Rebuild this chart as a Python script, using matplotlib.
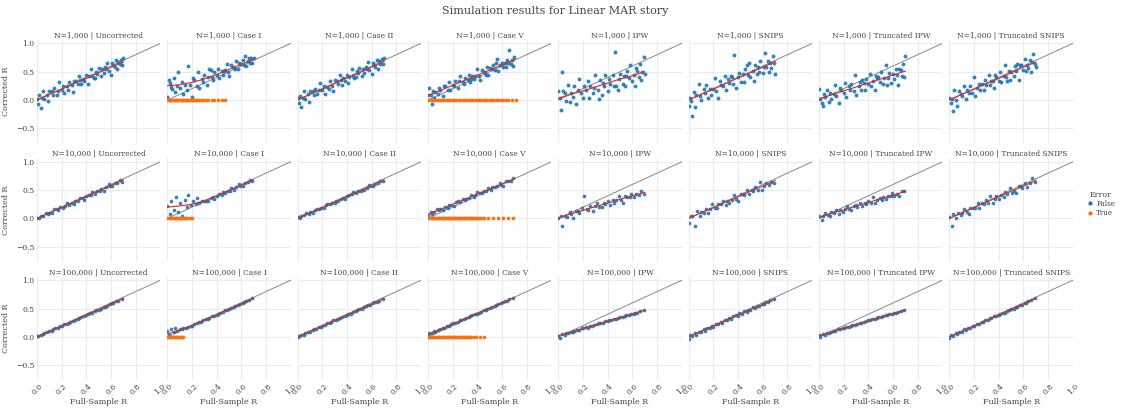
import matplotlib
matplotlib.use('Agg')
import matplotlib.pyplot as plt
from matplotlib.lines import Line2D

plt.rcParams['font.family'] = 'DejaVu Serif'

# column / row labels
methods = ['Uncorrected', 'Case I', 'Case II', 'Case V', 'IPW', 'SNIPS',
           'Truncated IPW', 'Truncated SNIPS']
sizes = ['1,000', '10,000', '100,000']

# ---------------- N = 1,000 ----------------
x_1k = [0.00, 0.01, 0.02, 0.04, 0.05, 0.06, 0.08, 0.09, 0.10, 0.12,
        0.13, 0.14, 0.16, 0.17, 0.18, 0.20, 0.21, 0.22, 0.24, 0.25,
        0.26, 0.28, 0.29, 0.30, 0.32, 0.33, 0.34, 0.36, 0.37, 0.38,
        0.40, 0.41, 0.42, 0.44, 0.45, 0.46, 0.48, 0.49, 0.50, 0.52,
        0.53, 0.54, 0.56, 0.57, 0.58, 0.60, 0.61, 0.62, 0.63, 0.64,
        0.65, 0.66, 0.67, 0.68, 0.69, 0.70, 0.03, 0.35, 0.55, 0.47]

y_1k_unc = [0.02, -0.07, 0.08, 0.03, 0.16, 0.01, 0.09, -0.02, 0.16, 0.15,
            0.08, 0.21, 0.09, 0.16, 0.32, 0.17, 0.24, 0.12, 0.24, 0.18,
            0.32, 0.26, 0.14, 0.34, 0.34, 0.28, 0.43, 0.28, 0.37, 0.33,
            0.44, 0.29, 0.42, 0.55, 0.42, 0.38, 0.50, 0.46, 0.56, 0.42,
            0.54, 0.47, 0.54, 0.66, 0.52, 0.45, 0.65, 0.61, 0.58, 0.70,
            0.54, 0.67, 0.63, 0.71, 0.62, 0.74, -0.14, 0.35, 0.58, 0.39]
y_1k_c1 = [0.06, 0.36, 0.30, 0.19, 0.39, 0.14, 0.25, 0.50, 0.22, 0.32,
           0.10, 0.27, 0.17, 0.60, 0.27, 0.05, 0.38, 0.36, 0.25, 0.50,
           0.22, 0.37, 0.31, 0.45, 0.26, 0.41, 0.54, 0.40, 0.36, 0.49,
           0.45, 0.54, 0.38, 0.52, 0.45, 0.51, 0.64, 0.50, 0.43, 0.62,
           0.59, 0.57, 0.69, 0.54, 0.65, 0.63, 0.71, 0.62, 0.78, 0.60,
           0.69, 0.74, 0.66, 0.74, 0.66, 0.75, 0.23, 0.53, 0.55, 0.53]
y_1k_c2 = [0.03, -0.06, 0.07, 0.04, 0.15, 0.02, 0.10, -0.03, 0.15, 0.16,
           0.09, 0.20, 0.10, 0.17, 0.30, 0.18, 0.25, 0.11, 0.23, 0.19,
           0.33, 0.25, 0.15, 0.35, 0.33, 0.29, 0.44, 0.27, 0.38, 0.34,
           0.45, 0.30, 0.41, 0.54, 0.43, 0.39, 0.51, 0.47, 0.57, 0.43,
           0.55, 0.48, 0.55, 0.67, 0.53, 0.46, 0.66, 0.62, 0.59, 0.71,
           0.55, 0.68, 0.64, 0.72, 0.63, 0.74, -0.13, 0.36, 0.59, 0.40]
y_1k_c5 = [0.08, 0.22, 0.08, 0.16, 0.04, 0.14, 0.10, 0.22, 0.17, 0.07,
           0.24, 0.24, 0.18, 0.31, 0.18, 0.27, 0.25, 0.33, 0.21, 0.33,
           0.42, 0.32, 0.29, 0.39, 0.36, 0.45, 0.32, 0.42, 0.37, 0.42,
           0.54, 0.42, 0.35, 0.53, 0.50, 0.47, 0.59, 0.45, 0.56, 0.54,
           0.61, 0.53, 0.72, 0.51, 0.61, 0.66, 0.58, 0.66, 0.58, 0.71,
           0.66, 0.88, 0.64, 0.70, 0.60, 0.76, -0.08, 0.37, 0.65, 0.45]
y_1k_ipw = [0.16, 0.03, -0.17, 0.15, 0.13, -0.01, 0.26, -0.04, 0.13, 0.06,
            0.24, -0.08, 0.18, 0.37, 0.12, 0.04, 0.25, 0.17, 0.33, 0.04,
            0.25, 0.13, 0.22, 0.44, 0.17, 0.02, 0.36, 0.30, 0.24, 0.45,
            0.16, 0.37, 0.28, 0.44, 0.25, 0.84, 0.17, 0.37, 0.46, 0.28,
            0.43, 0.25, 0.51, 0.38, 0.62, 0.34, 0.45, 0.24, 0.57, 0.51,
            0.40, 0.63, 0.36, 0.49, 0.76, 0.46, 0.50, 0.09, 0.43, 0.24]
y_1k_snips = [-0.11, 0.03, -0.02, 0.14, -0.12, 0.09, 0.28, 0.07, 0.00, 0.19,
              0.12, 0.26, 0.03, 0.20, 0.09, 0.19, 0.38, 0.15, 0.03, 0.33,
              0.27, 0.24, 0.42, 0.17, 0.37, 0.30, 0.43, 0.28, 0.80, 0.22,
              0.40, 0.48, 0.32, 0.46, 0.32, 0.54, 0.45, 0.65, 0.41, 0.51,
              0.33, 0.62, 0.58, 0.49, 0.69, 0.48, 0.59, 0.83, 0.58, 0.69,
              0.49, 0.66, 0.56, 0.77, 0.66, 0.46, -0.28, 0.40, 0.46, 0.61]
y_1k_tipw = [0.20, 0.01, -0.06, 0.11, 0.05, 0.17, -0.04, 0.12, 0.02, 0.10,
             0.27, 0.07, -0.05, 0.22, 0.17, 0.13, 0.30, 0.06, 0.24, 0.18,
             0.29, 0.16, 0.45, 0.09, 0.25, 0.32, 0.18, 0.30, 0.17, 0.37,
             0.28, 0.46, 0.24, 0.34, 0.18, 0.43, 0.40, 0.31, 0.49, 0.29,
             0.39, 0.61, 0.38, 0.48, 0.30, 0.46, 0.37, 0.55, 0.45, 0.27,
             0.55, 0.53, 0.43, 0.64, 0.40, 0.77, -0.10, 0.36, 0.26, 0.38]
y_1k_tsnips = [0.04, -0.05, 0.02, 0.18, 0.00, -0.10, 0.15, 0.11, 0.07, 0.24,
               0.02, 0.18, 0.13, 0.24, 0.12, 0.40, 0.07, 0.22, 0.29, 0.17,
               0.28, 0.17, 0.35, 0.27, 0.45, 0.26, 0.34, 0.21, 0.44, 0.40,
               0.33, 0.50, 0.32, 0.42, 0.62, 0.41, 0.51, 0.35, 0.50, 0.43,
               0.60, 0.51, 0.36, 0.61, 0.61, 0.53, 0.72, 0.51, 0.62, 0.57,
               0.70, 0.49, 0.67, 0.81, 0.64, 0.59, -0.20, 0.33, 0.63, 0.34]

err_x_1k_c1 = [0.00, 0.01, 0.02, 0.03, 0.04, 0.05, 0.06, 0.07, 0.08, 0.09,
               0.10, 0.11, 0.12, 0.13, 0.14, 0.15, 0.16, 0.17, 0.18, 0.19,
               0.20, 0.21, 0.22, 0.23, 0.24, 0.26, 0.27, 0.29, 0.31, 0.33,
               0.36, 0.38, 0.41, 0.44, 0.47]
err_x_1k_c5 = [0.00, 0.02, 0.03, 0.05, 0.06, 0.08, 0.10, 0.11, 0.13, 0.15,
               0.16, 0.18, 0.20, 0.21, 0.23, 0.25, 0.26, 0.28, 0.30, 0.31,
               0.33, 0.35, 0.36, 0.38, 0.40, 0.41, 0.43, 0.45, 0.46, 0.48,
               0.50, 0.51, 0.53, 0.55, 0.57, 0.59, 0.61, 0.63, 0.65, 0.68,
               0.71]

# ---------------- N = 10,000 ----------------
x_10k = [0.00, 0.02, 0.03, 0.05, 0.07, 0.09, 0.10, 0.12, 0.14, 0.16,
         0.17, 0.19, 0.21, 0.23, 0.24, 0.26, 0.28, 0.30, 0.31, 0.33,
         0.35, 0.37, 0.38, 0.40, 0.42, 0.44, 0.45, 0.47, 0.49, 0.51,
         0.52, 0.54, 0.56, 0.58, 0.59, 0.61, 0.63, 0.65, 0.67, 0.69]

y_10k_unc = [0.01, 0.00, 0.05, 0.05, 0.10, 0.08, 0.10, 0.09, 0.16, 0.17,
             0.15, 0.20, 0.18, 0.22, 0.27, 0.24, 0.28, 0.26, 0.30, 0.30,
             0.36, 0.36, 0.33, 0.40, 0.42, 0.42, 0.47, 0.44, 0.48, 0.48,
             0.52, 0.49, 0.55, 0.60, 0.57, 0.57, 0.62, 0.63, 0.67, 0.65]
y_10k_c1 = [0.22, 0.08, 0.31, 0.15, 0.38, 0.12, 0.27, 0.05, 0.33, 0.20,
            0.42, 0.24, 0.31, 0.25, 0.36, 0.28, 0.31, 0.30, 0.31, 0.31,
            0.36, 0.37, 0.35, 0.40, 0.43, 0.42, 0.47, 0.45, 0.49, 0.49,
            0.53, 0.50, 0.56, 0.60, 0.58, 0.58, 0.63, 0.64, 0.68, 0.66]
y_10k_c2 = [0.02, 0.01, 0.04, 0.06, 0.09, 0.08, 0.11, 0.10, 0.15, 0.16,
            0.16, 0.19, 0.19, 0.23, 0.26, 0.25, 0.27, 0.27, 0.31, 0.31,
            0.35, 0.36, 0.34, 0.39, 0.41, 0.43, 0.46, 0.45, 0.49, 0.49,
            0.51, 0.50, 0.54, 0.59, 0.57, 0.58, 0.61, 0.63, 0.66, 0.66]
y_10k_c5 = [0.06, 0.11, 0.08, 0.12, 0.17, 0.14, 0.17, 0.15, 0.20, 0.19,
            0.24, 0.24, 0.22, 0.29, 0.30, 0.29, 0.35, 0.32, 0.35, 0.36,
            0.41, 0.37, 0.42, 0.47, 0.45, 0.45, 0.49, 0.49, 0.53, 0.51,
            0.55, 0.55, 0.57, 0.62, 0.59, 0.58, 0.66, 0.66, 0.66, 0.72]
y_10k_ipw = [0.00, 0.04, -0.13, 0.05, 0.03, 0.11, 0.08, 0.01, 0.13, 0.13,
             0.10, 0.19, 0.40, 0.17, 0.15, 0.22, 0.13, 0.22, 0.28, 0.21,
             0.20, 0.27, 0.26, 0.31, 0.23, 0.32, 0.27, 0.32, 0.39, 0.32,
             0.28, 0.39, 0.38, 0.38, 0.44, 0.37, 0.44, 0.42, 0.49, 0.44]
y_10k_snips = [-0.08, 0.05, 0.05, -0.13, 0.13, 0.05, 0.11, 0.09, 0.17, 0.09,
               0.17, 0.25, 0.19, 0.18, 0.25, 0.25, 0.31, 0.24, 0.31, 0.28,
               0.33, 0.41, 0.34, 0.31, 0.43, 0.43, 0.42, 0.50, 0.43, 0.50,
               0.48, 0.55, 0.51, 0.64, 0.50, 0.58, 0.63, 0.59, 0.65, 0.62]
y_10k_tipw = [0.05, -0.02, 0.05, 0.10, 0.06, 0.05, 0.11, 0.10, 0.14, 0.08,
              0.14, 0.12, 0.16, 0.22, 0.16, 0.14, 0.22, 0.23, 0.21, 0.27,
              0.22, 0.28, 0.26, 0.31, 0.27, 0.38, 0.27, 0.33, 0.36, 0.33,
              0.37, 0.34, 0.40, 0.39, 0.45, 0.40, 0.43, 0.39, 0.49, 0.48]
y_10k_tsnips = [0.02, -0.13, 0.07, 0.00, 0.09, 0.06, 0.10, 0.17, 0.11, 0.08,
                0.19, 0.19, 0.19, 0.27, 0.19, 0.27, 0.26, 0.33, 0.27, 0.40,
                0.27, 0.35, 0.39, 0.35, 0.41, 0.38, 0.46, 0.44, 0.53, 0.45,
                0.49, 0.45, 0.57, 0.57, 0.54, 0.63, 0.56, 0.62, 0.72, 0.65]

err_x_10k_c1 = [0.00, 0.01, 0.02, 0.03, 0.04, 0.05, 0.06, 0.07, 0.08, 0.09,
                0.10, 0.11, 0.12, 0.13, 0.14, 0.15, 0.16, 0.18, 0.20]
err_x_10k_c5 = [0.00, 0.01, 0.02, 0.03, 0.04, 0.05, 0.06, 0.07, 0.08, 0.09,
                0.10, 0.11, 0.12, 0.13, 0.14, 0.15, 0.16, 0.17, 0.18, 0.19,
                0.20, 0.21, 0.22, 0.23, 0.24, 0.25, 0.26, 0.27, 0.28, 0.29,
                0.30, 0.31, 0.32, 0.33, 0.34, 0.35, 0.36, 0.37, 0.38, 0.40,
                0.41, 0.43, 0.45, 0.49, 0.53, 0.57, 0.61, 0.65, 0.69]

# ---------------- N = 100,000 ----------------
x_100k = [0.00, 0.01, 0.03, 0.05, 0.06, 0.08, 0.10, 0.12, 0.13, 0.15,
          0.17, 0.19, 0.20, 0.22, 0.24, 0.26, 0.27, 0.29, 0.31, 0.33,
          0.34, 0.36, 0.38, 0.40, 0.41, 0.43, 0.45, 0.47, 0.48, 0.50,
          0.52, 0.54, 0.55, 0.57, 0.59, 0.61, 0.62, 0.64, 0.66, 0.69]

y_100k_unc = [0.01, 0.01, 0.03, 0.05, 0.07, 0.08, 0.10, 0.11, 0.13, 0.15,
              0.16, 0.19, 0.19, 0.22, 0.23, 0.25, 0.27, 0.28, 0.30, 0.32,
              0.33, 0.35, 0.37, 0.38, 0.40, 0.42, 0.43, 0.46, 0.47, 0.48,
              0.50, 0.53, 0.53, 0.55, 0.58, 0.59, 0.60, 0.63, 0.64, 0.67]
y_100k_c1 = [0.10, 0.04, 0.14, 0.08, 0.16, 0.11, 0.13, 0.13, 0.15, 0.15,
             0.17, 0.19, 0.20, 0.22, 0.24, 0.26, 0.27, 0.29, 0.31, 0.32,
             0.34, 0.36, 0.37, 0.39, 0.41, 0.43, 0.44, 0.47, 0.48, 0.49,
             0.51, 0.53, 0.55, 0.56, 0.58, 0.60, 0.61, 0.63, 0.65, 0.69]
y_100k_c2 = [0.00, 0.02, 0.03, 0.04, 0.06, 0.08, 0.09, 0.12, 0.13, 0.14,
             0.17, 0.18, 0.20, 0.21, 0.24, 0.25, 0.26, 0.29, 0.30, 0.32,
             0.33, 0.35, 0.36, 0.39, 0.40, 0.41, 0.44, 0.45, 0.47, 0.49,
             0.50, 0.52, 0.54, 0.56, 0.57, 0.59, 0.61, 0.62, 0.64, 0.67]
y_100k_c5 = [0.04, 0.06, 0.06, 0.10, 0.09, 0.12, 0.13, 0.16, 0.16, 0.19,
             0.20, 0.22, 0.24, 0.25, 0.27, 0.29, 0.30, 0.32, 0.33, 0.35,
             0.36, 0.38, 0.40, 0.41, 0.43, 0.44, 0.47, 0.48, 0.50, 0.51,
             0.53, 0.55, 0.56, 0.58, 0.59, 0.61, 0.63, 0.64, 0.66, 0.69]
y_100k_ipw = [0.02, -0.02, 0.05, 0.03, 0.07, 0.06, 0.09, 0.08, 0.11, 0.12,
              0.12, 0.15, 0.15, 0.17, 0.16, 0.19, 0.20, 0.21, 0.22, 0.24,
              0.25, 0.25, 0.28, 0.28, 0.30, 0.30, 0.32, 0.32, 0.34, 0.35,
              0.35, 0.37, 0.38, 0.38, 0.41, 0.41, 0.42, 0.43, 0.45, 0.47]
y_100k_snips = [-0.04, 0.03, 0.01, 0.07, 0.04, 0.09, 0.08, 0.14, 0.11, 0.16,
                0.15, 0.20, 0.18, 0.23, 0.22, 0.27, 0.24, 0.30, 0.29, 0.34,
                0.31, 0.36, 0.38, 0.37, 0.42, 0.41, 0.45, 0.44, 0.48, 0.47,
                0.52, 0.51, 0.55, 0.54, 0.58, 0.58, 0.62, 0.61, 0.65, 0.67]
y_100k_tipw = [0.03, 0.00, 0.05, 0.04, 0.07, 0.07, 0.09, 0.11, 0.10, 0.13,
               0.14, 0.15, 0.16, 0.18, 0.17, 0.20, 0.21, 0.21, 0.23, 0.24,
               0.25, 0.26, 0.28, 0.29, 0.30, 0.31, 0.32, 0.33, 0.35, 0.35,
               0.37, 0.38, 0.38, 0.40, 0.41, 0.42, 0.43, 0.44, 0.45, 0.48]
y_100k_tsnips = [-0.02, 0.03, 0.02, 0.06, 0.05, 0.09, 0.09, 0.13, 0.12, 0.16,
                 0.16, 0.19, 0.20, 0.23, 0.22, 0.26, 0.26, 0.29, 0.30, 0.33,
                 0.33, 0.36, 0.36, 0.39, 0.40, 0.43, 0.43, 0.46, 0.47, 0.49,
                 0.50, 0.53, 0.53, 0.56, 0.57, 0.60, 0.60, 0.63, 0.65, 0.68]

err_x_100k_c1 = [0.00, 0.01, 0.02, 0.03, 0.04, 0.05, 0.06, 0.07, 0.08, 0.09,
                 0.10, 0.11, 0.12, 0.13]
err_x_100k_c5 = [0.00, 0.01, 0.02, 0.03, 0.04, 0.05, 0.06, 0.07, 0.08, 0.09,
                 0.10, 0.11, 0.12, 0.13, 0.14, 0.15, 0.16, 0.17, 0.18, 0.19,
                 0.20, 0.21, 0.22, 0.23, 0.24, 0.25, 0.26, 0.27, 0.28, 0.29,
                 0.30, 0.31, 0.32, 0.33, 0.34, 0.35, 0.37, 0.39, 0.42, 0.45]

# red trend lines, read at these x positions
fit_x = [0.0, 0.1, 0.2, 0.3, 0.4, 0.5, 0.6, 0.7]
fit_1k = [[0.00, 0.10, 0.19, 0.29, 0.38, 0.48, 0.58, 0.67],
          [0.25, 0.27, 0.31, 0.37, 0.45, 0.54, 0.63, 0.72],
          [0.00, 0.10, 0.19, 0.29, 0.39, 0.48, 0.58, 0.68],
          [0.08, 0.17, 0.26, 0.35, 0.44, 0.53, 0.62, 0.71],
          [0.03, 0.10, 0.16, 0.23, 0.30, 0.37, 0.43, 0.50],
          [0.00, 0.10, 0.19, 0.29, 0.39, 0.48, 0.58, 0.68],
          [0.02, 0.09, 0.16, 0.23, 0.30, 0.37, 0.44, 0.51],
          [0.00, 0.10, 0.19, 0.29, 0.38, 0.48, 0.58, 0.67]]
fit_10k = [[0.00, 0.10, 0.19, 0.29, 0.39, 0.48, 0.58, 0.68],
           [0.20, 0.22, 0.25, 0.31, 0.40, 0.49, 0.59, 0.68],
           [0.00, 0.10, 0.19, 0.29, 0.39, 0.48, 0.58, 0.68],
           [0.07, 0.16, 0.25, 0.34, 0.43, 0.52, 0.61, 0.70],
           [0.01, 0.08, 0.14, 0.21, 0.27, 0.34, 0.40, 0.46],
           [0.00, 0.10, 0.19, 0.29, 0.38, 0.48, 0.57, 0.67],
           [0.02, 0.09, 0.15, 0.22, 0.28, 0.35, 0.41, 0.48],
           [0.00, 0.10, 0.19, 0.29, 0.38, 0.48, 0.57, 0.67]]
fit_100k = [[0.00, 0.10, 0.19, 0.29, 0.39, 0.48, 0.58, 0.68],
            [0.05, 0.12, 0.20, 0.30, 0.39, 0.49, 0.58, 0.68],
            [0.00, 0.10, 0.19, 0.29, 0.39, 0.48, 0.58, 0.68],
            [0.04, 0.13, 0.23, 0.32, 0.42, 0.51, 0.60, 0.70],
            [0.02, 0.08, 0.15, 0.21, 0.28, 0.34, 0.41, 0.47],
            [0.00, 0.10, 0.19, 0.29, 0.38, 0.48, 0.57, 0.67],
            [0.02, 0.09, 0.15, 0.22, 0.28, 0.35, 0.41, 0.48],
            [0.00, 0.10, 0.19, 0.29, 0.39, 0.48, 0.58, 0.68]]

rows = [
    (x_1k, [y_1k_unc, y_1k_c1, y_1k_c2, y_1k_c5, y_1k_ipw, y_1k_snips, y_1k_tipw, y_1k_tsnips],
     {1: err_x_1k_c1, 3: err_x_1k_c5}, fit_1k),
    (x_10k, [y_10k_unc, y_10k_c1, y_10k_c2, y_10k_c5, y_10k_ipw, y_10k_snips, y_10k_tipw, y_10k_tsnips],
     {1: err_x_10k_c1, 3: err_x_10k_c5}, fit_10k),
    (x_100k, [y_100k_unc, y_100k_c1, y_100k_c2, y_100k_c5, y_100k_ipw, y_100k_snips, y_100k_tipw, y_100k_tsnips],
     {1: err_x_100k_c1, 3: err_x_100k_c5}, fit_100k),
]
dot_size = [8, 7, 7]

blue = '#1f77b4'
orange = '#ff6f0e'
text_c = '#444444'

fig, axes = plt.subplots(3, 8, figsize=(11.21, 4.08), dpi=100, sharex=True, sharey=True)
fig.subplots_adjust(left=0.033, right=0.957, top=0.902, bottom=0.069, wspace=0.057, hspace=0.15)

for r, (xs, ys_list, errs, fits) in enumerate(rows):
    for c in range(8):
        ax = axes[r, c]
        ys = ys_list[c]
        ax.plot([0, 1], [0, 1], color='#888888', lw=0.7, zorder=1)
        ax.scatter(xs, ys, s=dot_size[r], color=blue, linewidths=0, alpha=0.9, zorder=2)
        if c in errs:
            ex = errs[c]
            ax.scatter(ex, [0.0] * len(ex), s=7, color=orange, linewidths=0, zorder=3)
        ax.plot(fit_x, fits[c], color='#e3261c', lw=0.8, zorder=4)
        ax.set_title('N=%s | %s' % (sizes[r], methods[c]), fontsize=5.4, color=text_c, pad=2)
        ax.set_xlim(0, 1)
        ax.set_ylim(-0.76, 1.06)
        ax.set_xticks([0.0, 0.2, 0.4, 0.6, 0.8, 1.0])
        ax.set_yticks([-0.5, 0.0, 0.5, 1.0])
        ax.grid(True, color='#ebebeb', lw=0.8)
        ax.set_axisbelow(True)
        for s in ax.spines.values():
            s.set_visible(False)
        ax.tick_params(length=0, labelsize=5.5, colors=text_c, pad=2)
        if c == 0:
            ax.set_ylabel('Corrected R', fontsize=5.8, color=text_c, labelpad=4)
        if r == 2:
            ax.set_xlabel('Full-Sample R', fontsize=5.8, color=text_c, labelpad=1)
            for lab in ax.get_xticklabels():
                lab.set_rotation(45)

handles = [Line2D([], [], marker='o', ls='', color=blue, markersize=2),
           Line2D([], [], marker='o', ls='', color=orange, markersize=2)]
leg = fig.legend(handles, ['False', 'True'], title='Error', loc='center left',
                 bbox_to_anchor=(0.963, 0.5), frameon=False, fontsize=5.2,
                 title_fontsize=5.6, handletextpad=0.2, labelspacing=0.2,
                 handlelength=1.2)
for t in leg.get_texts():
    t.set_color(text_c)
leg.get_title().set_color(text_c)

fig.suptitle('Simulation results for Linear MAR story', fontsize=8, color=text_c, x=0.495, y=0.985)

fig.savefig('out.png', dpi=100)
